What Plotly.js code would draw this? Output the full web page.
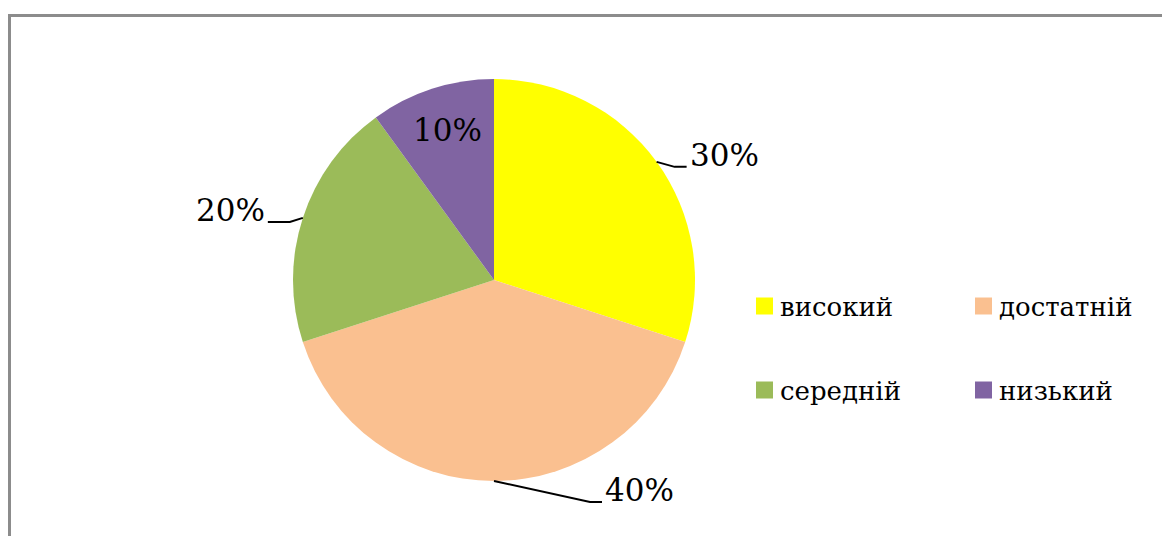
<!DOCTYPE html>
<html>
<head>
<meta charset="utf-8">
<script src="https://cdn.plot.ly/plotly-3.0.1.min.js"></script>
<style>
  html, body { margin: 0; padding: 0; background: #fff; }
  #chart { width: 1162px; height: 536px; }
</style>
</head>
<body>
<div id="chart"></div>
<script>
// ---- data ----
const categories = ['високий', 'достатній', 'середній', 'низький'];
const values = [30, 40, 20, 10];
const colors = ['#FFFF00', '#FAC090', '#9BBB59', '#8064A2'];

// ---- layout constants (pixels) ----
const W = 1162, H = 536;
const FONT = 'DejaVu Serif';
const LABEL_SIZE = 31;
const LEGEND_SIZE = 26;
const pieBox = { left: 293, right: 695, top: 79, bottom: 481 };
// label placement per slice: outside with elbow leader, or inside at fraction of radius
const labelStyle = [
  { mode: 'outside', d1: [18, 5], h: 12 },
  { mode: 'outside', d1: [96, 21], h: 12 },
  { mode: 'outside', d1: [-13, 4], h: -22 },
  { mode: 'inside', k: 0.78 }
];
const legendCols = [756, 975];
const legendRows = [306, 390];
const legendSwatch = 17;
const legendTextGap = 22;

const px = x => x / W;
const py = y => 1 - y / H;

const domain = { x: [px(pieBox.left), px(pieBox.right)], y: [py(pieBox.bottom), py(pieBox.top)] };
const cx = (domain.x[0] + domain.x[1]) / 2 * W;
const cy = (1 - (domain.y[0] + domain.y[1]) / 2) * H;
const r = Math.min((domain.x[1] - domain.x[0]) * W, (domain.y[1] - domain.y[0]) * H) / 2;

const total = values.reduce((a, b) => a + b, 0);
const annotations = [];
const shapes = [];

let cum = 0;
values.forEach((v, i) => {
  const theta = 2 * Math.PI * (cum + v / 2) / total;
  cum += v;
  const txt = Math.round(v / total * 100) + '%';
  const st = labelStyle[i];
  const sx = Math.sin(theta), sy = -Math.cos(theta);
  if (st.mode === 'inside') {
    annotations.push({
      xref: 'paper', yref: 'paper', x: px(cx + st.k * r * sx + 2), y: py(cy + st.k * r * sy - 1),
      text: txt, showarrow: false, xanchor: 'center', yanchor: 'middle',
      font: { family: FONT, size: LABEL_SIZE, color: '#000' }
    });
  } else {
    const P = [cx + r * sx, cy + r * sy];
    const E1 = [P[0] + st.d1[0], P[1] + st.d1[1]];
    const E2 = [E1[0] + st.h, E1[1]];
    shapes.push({
      type: 'path', xref: 'paper', yref: 'paper',
      path: `M${px(P[0])},${py(P[1])} L${px(E1[0])},${py(E1[1])} L${px(E2[0])},${py(E2[1])}`,
      line: { color: '#000', width: 2 }
    });
    const side = st.h >= 0 ? 1 : -1;
    annotations.push({
      xref: 'paper', yref: 'paper', x: px(E2[0] + 1 * side), y: py(E2[1] - 12),
      text: txt, showarrow: false, xanchor: side > 0 ? 'left' : 'right', yanchor: 'middle',
      font: { family: FONT, size: LABEL_SIZE, color: '#000' }
    });
  }
});

// legend (2 columns x 2 rows)
categories.forEach((c, i) => {
  const lx = legendCols[i % 2];
  const ly = legendRows[Math.floor(i / 2)];
  shapes.push({
    type: 'rect', xref: 'paper', yref: 'paper',
    x0: px(lx), x1: px(lx + legendSwatch), y0: py(ly - legendSwatch / 2), y1: py(ly + legendSwatch / 2),
    fillcolor: colors[i], line: { width: 0 }
  });
  annotations.push({
    xref: 'paper', yref: 'paper', x: px(lx + legendTextGap), y: py(ly + 1),
    text: c, showarrow: false, xanchor: 'left', yanchor: 'middle',
    font: { family: FONT, size: LEGEND_SIZE, color: '#000' }
  });
});

// chart frame
shapes.push({
  type: 'rect', xref: 'paper', yref: 'paper',
  x0: px(9.5), x1: px(W + 10), y0: py(15.5), y1: py(H + 10),
  line: { color: '#8c8c8c', width: 3 }, fillcolor: 'rgba(0,0,0,0)'
});

const trace = {
  type: 'pie',
  labels: categories,
  values: values,
  marker: { colors: colors, line: { width: 0 } },
  sort: false,
  direction: 'clockwise',
  rotation: 0,
  textinfo: 'none',
  hoverinfo: 'none',
  domain: domain,
  showlegend: false
};

const layout = {
  width: W, height: H,
  margin: { l: 0, r: 0, t: 0, b: 0 },
  paper_bgcolor: '#fff',
  font: { family: FONT },
  showlegend: false,
  annotations: annotations,
  shapes: shapes
};

Plotly.newPlot('chart', [trace], layout, { displayModeBar: false, staticPlot: true });
</script>
</body>
</html>
